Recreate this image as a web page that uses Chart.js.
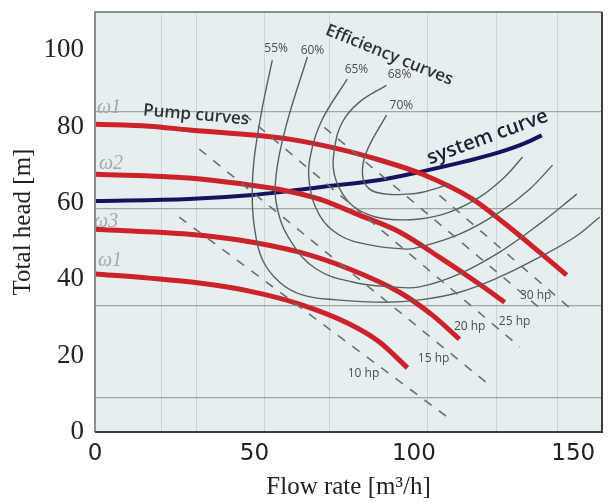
<!DOCTYPE html>
<html>
<head>
<meta charset="utf-8">
<script src="https://cdn.jsdelivr.net/npm/chart.js@4.4.1/dist/chart.umd.min.js"></script>
<style>
  html, body { margin: 0; padding: 0; background: #fff; }
  #wrap { width: 610px; height: 504px; position: relative; }
</style>
</head>
<body>
<div id="wrap"><canvas id="myChart"></canvas></div>
<script>
// pump curves (red), one per speed
const pump1X = [0, 17, 29.5, 50.6, 60.9, 76.6, 89, 102.7, 118.4, 129.1, 139.4, 147.9];
const pump1Y = [80.6, 80.1, 79.1, 77.7, 76.7, 74.1, 71.3, 67.5, 61.0, 54.2, 47.1, 41.1];
const pump2X = [0, 29.5, 48.4, 58.7, 70.4, 82.9, 95.5, 108, 120.6, 128.5];
const pump2Y = [67.5, 66.5, 64.7, 63.4, 61.0, 56.8, 52.4, 45.8, 38.7, 34.0];
const pump3X = [0, 29.5, 45.2, 64.1, 79.8, 95.5, 105.8, 114.3];
const pump3Y = [53.1, 51.8, 50.3, 47.1, 42.7, 36.6, 30.6, 24.3];
const pump4X = [0, 17.0, 32.7, 48.4, 64.1, 79.8, 89.2, 98.0];
const pump4Y = [41.4, 40.3, 39.0, 36.9, 33.5, 28.3, 23.6, 16.8];

// system curve (navy)
const sysX = [0, 29.5, 48.4, 60.9, 70.4, 89.2, 101.8, 123.7, 134.1, 140.1];
const sysY = [60.5, 61.0, 62.0, 63.1, 64.1, 66.0, 68.1, 72.5, 75.4, 77.7];

// efficiency curves (C shaped, so x/y pairs)
const eff55X = [55.6, 52.4, 49.9, 49.3, 49.9, 52.4, 57.8, 65.0, 75.7, 91.4, 101.8, 114.3, 126.9, 139.4, 150.4, 158.3];
const eff55Y = [97.4, 84.6, 71.5, 62.8, 54.2, 45.3, 39.3, 35.9, 34.6, 34.0, 34.6, 36.6, 40.6, 45.8, 51.0, 56.3];
const eff60X = [66.6, 60.0, 56.8, 57.2, 61.6, 69.4, 80.7, 93.3, 101.8, 114.3, 126.9, 139.4, 151.1];
const eff60Y = [98.2, 80.4, 67.3, 58.4, 49.7, 42.7, 39.3, 38.0, 38.0, 41.4, 47.1, 54.5, 62.3];
const eff65X = [79.1, 71.3, 67.8, 67.2, 70.4, 76.6, 86.1, 97.7, 101.8, 114.3, 126.9, 136.3, 143.5];
const eff65Y = [92.4, 81.9, 73.3, 65.4, 56.8, 51.6, 49.0, 47.9, 48.4, 51.8, 57.6, 63.6, 69.9];
const eff68X = [91.4, 82.9, 77.6, 75.1, 75.1, 78.8, 83.9, 91.4, 101.8, 111.2, 120.6, 128.5, 134.1];
const eff68Y = [90.8, 86.4, 81.2, 74.1, 67.3, 61.0, 57.6, 55.8, 55.8, 57.6, 61.5, 66.8, 72.0];
const eff70X = [91.4, 85.1, 83.9, 86.1, 91.4, 97.7, 102.7, 111.2];
const eff70Y = [83.0, 73.3, 67.3, 63.6, 62.3, 62.3, 62.8, 64.9];

// constant power lines (dashed), start and end
const hp10X = [26.4, 111.8];
const hp10Y = [56.3, 3.1];
const hp15X = [32.7, 123.7];
const hp15Y = [74.1, 12.3];
const hp20X = [46.8, 133.2];
const hp20Y = [83.2, 22.3];
const hp25X = [71.9, 141.0];
const hp25Y = [79.8, 31.4];
const hp30X = [108.0, 150.4];
const hp30Y = [62.0, 31.4];

// labels
const effLabels = ['55%', '60%', '65%', '68%', '70%'];
const effLabelX = [56.8, 68.2, 82.0, 95.5, 96.1];
const effLabelY = [100.3, 100.0, 95.0, 93.5, 85.6];
const hpLabels = ['10 hp', '15 hp', '20 hp', '25 hp', '30 hp'];
const hpLabelX = [84.2, 106.2, 117.5, 131.6, 138.2];
const hpLabelY = [15.2, 19.1, 27.7, 28.8, 35.6];
const speedLabels = ['ω1', 'ω2', 'ω3', 'ω1'];
const speedLabelX = [4.4, 5.0, 3.5, 4.7];
const speedLabelY = [84.8, 70.2, 55.0, 44.8];

// axis ticks and the faint scan lines of the background
const xTicks = [0, 50, 100, 150];
const yTicks = [0, 20, 40, 60, 80, 100];
const gridLinesY = [8.9, 33.2, 58.4, 83.8];
const gridLinesX = [21, 31.7, 53, 73.5, 104.3, 126, 145];

function pts(xs, ys) {
    return xs.map((x, i) => ({ x: x, y: ys[i] }));
}

function line(xs, ys, color, width, kind) {
    const ds = {
        data: pts(xs, ys),
        showLine: true,
        borderColor: color,
        borderWidth: width,
        pointRadius: 0,
        fill: false,
        xAxisID: 'x',
        yAxisID: 'y'
    };
    if (kind === 'dash') {
        ds.borderDash = [9, 9];
        ds.tension = 0;
    } else if (kind === 'mono') {
        ds.cubicInterpolationMode = 'monotone';
    } else {
        ds.tension = 0.4;
    }
    return ds;
}

const RED = '#cc2229';
const NAVY = '#14145e';
const GRAY = '#596063';
const DASH = '#6a7073';

const datasets = [
    line(hp10X, hp10Y, DASH, 1.6, 'dash'),
    line(hp15X, hp15Y, DASH, 1.6, 'dash'),
    line(hp20X, hp20Y, DASH, 1.6, 'dash'),
    line(hp25X, hp25Y, DASH, 1.6, 'dash'),
    line(hp30X, hp30Y, DASH, 1.6, 'dash'),
    line(eff55X, eff55Y, GRAY, 1.4),
    line(eff60X, eff60Y, GRAY, 1.4),
    line(eff65X, eff65Y, GRAY, 1.4),
    line(eff68X, eff68Y, GRAY, 1.4),
    line(eff70X, eff70Y, GRAY, 1.4),
    line(pump1X, pump1Y, RED, 5, 'mono'),
    line(pump2X, pump2Y, RED, 5, 'mono'),
    line(pump3X, pump3Y, RED, 5, 'mono'),
    line(pump4X, pump4Y, RED, 5, 'mono'),
    line(sysX, sysY, NAVY, 4, 'mono')
];

function drawText(chart, txt, x, y, font, color, angle) {
    const ctx = chart.ctx;
    const px = chart.scales.x.getPixelForValue(x);
    const py = chart.scales.y.getPixelForValue(y);
    ctx.save();
    ctx.translate(px, py);
    ctx.rotate((angle || 0) * Math.PI / 180);
    ctx.font = font;
    ctx.fillStyle = color;
    ctx.textAlign = 'center';
    ctx.textBaseline = 'middle';
    ctx.fillText(txt, 0, 0);
    ctx.restore();
}

const plotBg = {
    id: 'plotBg',
    beforeDraw(chart) {
        const a = chart.chartArea;
        const ctx = chart.ctx;
        ctx.save();
        ctx.fillStyle = '#e6eef0';
        ctx.fillRect(a.left, a.top, a.right - a.left, a.bottom - a.top);
        ctx.restore();
    }
};

const notes = {
    id: 'notes',
    afterDatasetsDraw(chart) {
        for (let i = 0; i < effLabels.length; i++) {
            drawText(chart, effLabels[i], effLabelX[i], effLabelY[i], '12px "Open Sans"', '#4a4f52', 0);
        }
        for (let i = 0; i < hpLabels.length; i++) {
            drawText(chart, hpLabels[i], hpLabelX[i], hpLabelY[i], '12px "Open Sans"', '#4a4f52', 0);
        }
        for (let i = 0; i < speedLabels.length; i++) {
            drawText(chart, speedLabels[i], speedLabelX[i], speedLabelY[i], 'italic 20px "Liberation Serif"', '#a3a8aa', 0);
        }
        drawText(chart, 'Pump curves', 31.7, 83.0, '600 17px "Open Sans"', '#2e3336', 5);
        drawText(chart, 'Efficiency curves', 92.3, 98.7, '600 17px "Open Sans"', '#2e3336', 22);
        drawText(chart, 'system curve', 123.1, 77.2, '600 20px "Open Sans"', '#1d2030', -20);
    },
    afterDraw(chart) {
        const a = chart.chartArea;
        const ctx = chart.ctx;
        ctx.save();
        ctx.lineWidth = 2;
        ctx.strokeStyle = '#8a8f92';
        ctx.beginPath();
        ctx.moveTo(a.left, a.bottom);
        ctx.lineTo(a.left, a.top);
        ctx.lineTo(a.right, a.top);
        ctx.stroke();
        ctx.strokeStyle = '#3a3d40';
        ctx.beginPath();
        ctx.moveTo(a.right, a.top);
        ctx.lineTo(a.right, a.bottom);
        ctx.lineTo(a.left, a.bottom);
        ctx.stroke();
        ctx.restore();
    }
};

const ctx = document.getElementById('myChart').getContext('2d');
const myChart = new Chart(ctx, {
    type: 'scatter',
    data: { datasets: datasets },
    options: {
        responsive: true,
        maintainAspectRatio: false,
        animation: false,
        layout: { padding: { top: 12, right: 8, left: 0, bottom: 0 } },
        plugins: {
            legend: { display: false },
            tooltip: { enabled: false }
        },
        scales: {
            x: {
                type: 'linear',
                min: 0,
                max: 159,
                afterBuildTicks: s => { s.ticks = xTicks.map(v => ({ value: v })); },
                afterFit: s => { s.height = 72; },
                grid: { display: false, drawTicks: false },
                border: { display: false },
                ticks: {
                    padding: 8,
                    color: '#222',
                    font: { family: 'DejaVu Sans', size: 23 },
                    maxRotation: 0
                },
                title: {
                    display: true,
                    text: 'Flow rate [m³/h]',
                    color: '#222',
                    font: { family: 'Liberation Serif', size: 25 },
                    padding: { top: 0, bottom: 2 }
                }
            },
            y: {
                type: 'linear',
                min: 0,
                max: 110,
                afterBuildTicks: s => { s.ticks = yTicks.map(v => ({ value: v })); },
                afterFit: s => { s.width = 95; },
                grid: { display: false, drawTicks: false },
                border: { display: false },
                ticks: {
                    padding: 11,
                    color: '#222',
                    // tiny line height so the labels do not push the plot down
                    font: { family: 'Liberation Serif', size: 27, lineHeight: 0.05 }
                },
                title: {
                    display: true,
                    text: 'Total head [m]',
                    color: '#222',
                    font: { family: 'Liberation Serif', size: 25 },
                    padding: { top: 8, bottom: 0 }
                }
            },
            xg: {
                type: 'linear',
                position: 'top',
                min: 0,
                max: 159,
                afterBuildTicks: s => { s.ticks = gridLinesX.map(v => ({ value: v })); },
                afterFit: s => { s.height = 0; },
                ticks: { display: false },
                border: { display: false },
                grid: { color: 'rgba(170,182,186,0.45)', lineWidth: 1, drawTicks: false }
            },
            yg: {
                type: 'linear',
                position: 'right',
                min: 0,
                max: 110,
                afterBuildTicks: s => { s.ticks = gridLinesY.map(v => ({ value: v })); },
                afterFit: s => { s.width = 0; },
                ticks: { display: false },
                border: { display: false },
                grid: { color: '#9ea6a9', lineWidth: 1.2, drawTicks: false }
            }
        }
    },
    plugins: [plotBg, notes]
});
</script>
</body>
</html>
